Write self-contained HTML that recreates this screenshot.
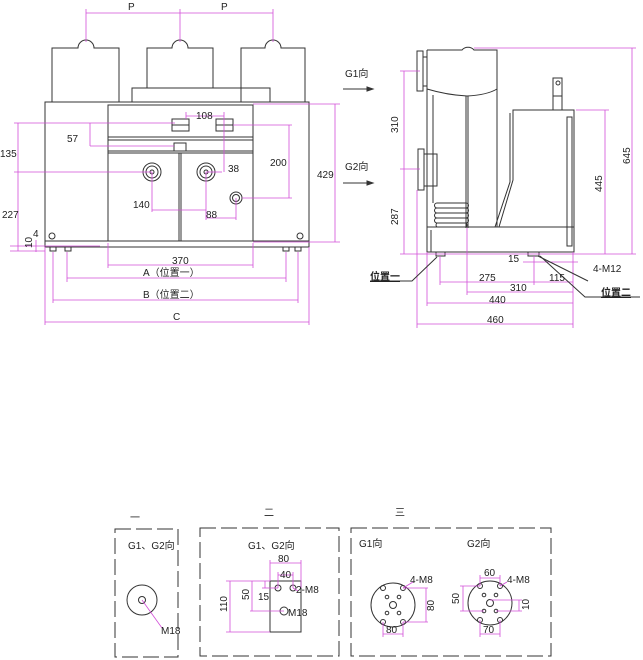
<!DOCTYPE html>
<html><head><meta charset="utf-8"><style>
html,body{margin:0;padding:0;background:#fff}
svg{display:block}
text{font-family:"Liberation Sans","Noto Sans CJK SC",sans-serif;font-size:10px;fill:#222}
.k{stroke:#333;fill:none;stroke-width:1}
.m{stroke:#d24fd8;fill:none;stroke-width:0.8}
.d{stroke:#333;fill:none;stroke-width:1;stroke-dasharray:16 5}
</style></head><body>
<svg width="643" height="660" viewBox="0 0 643 660" xmlns="http://www.w3.org/2000/svg">
<g class="k">
<path d="M52,102 V48 H78 A8,8 0 0 1 94,48 H119 V102"/>
<path d="M147,88 V48 H172 A8,8 0 0 1 188,48 H213 V88"/>
<path d="M241,102 V48 H265 A8,8 0 0 1 281,48 H305 V102"/>
<rect x="132" y="88" width="138" height="14"/>
<rect x="45" y="102" width="264" height="145"/>
<line x1="45" y1="241" x2="309" y2="241"/>
<rect x="108" y="105" width="145" height="136"/>
<line x1="108" y1="137" x2="253" y2="137"/><line x1="108" y1="140" x2="253" y2="140"/>
<line x1="108" y1="151" x2="253" y2="151"/><line x1="108" y1="153" x2="253" y2="153"/>
<line x1="179" y1="153" x2="179" y2="241"/><line x1="181" y1="153" x2="181" y2="241"/>
<rect x="172" y="119" width="17" height="12"/><line x1="172" y1="125" x2="189" y2="125"/>
<rect x="216" y="119" width="17" height="12"/><line x1="216" y1="125" x2="233" y2="125"/>
<rect x="174" y="143" width="12" height="8"/>
<circle cx="152" cy="172" r="9"/><circle cx="152" cy="172" r="6"/><circle cx="152" cy="172" r="2"/>
<circle cx="206" cy="172" r="9"/><circle cx="206" cy="172" r="6"/><circle cx="206" cy="172" r="2"/>
<circle cx="236" cy="198" r="6"/><circle cx="236" cy="198" r="3.5"/>
<circle cx="52" cy="236" r="3"/><circle cx="300" cy="236" r="3"/>
<rect x="50" y="247" width="6" height="4"/><rect x="65" y="247" width="6" height="4"/>
<rect x="283" y="247" width="6" height="4"/><rect x="295" y="247" width="6" height="4"/>
</g>
<g class="m">
<line x1="86" y1="13" x2="273" y2="13"/><line x1="86" y1="9" x2="86" y2="42"/><line x1="180" y1="9" x2="180" y2="42"/><line x1="273" y1="9" x2="273" y2="42"/>
<line x1="18" y1="123" x2="18" y2="251"/><line x1="14" y1="123" x2="175" y2="123"/><line x1="14" y1="172" x2="152" y2="172"/>
<line x1="10" y1="246" x2="100" y2="246"/><line x1="10" y1="251" x2="45" y2="251"/>
<line x1="36" y1="240" x2="36" y2="252"/>
<line x1="90" y1="123" x2="90" y2="146"/><line x1="90" y1="146" x2="174" y2="146"/>
<line x1="186" y1="116" x2="224" y2="116"/><line x1="186" y1="112" x2="186" y2="119"/><line x1="224" y1="112" x2="224" y2="172"/>
<line x1="233" y1="125" x2="292" y2="125"/><line x1="289" y1="125" x2="289" y2="198"/><line x1="242" y1="198" x2="292" y2="198"/>
<line x1="206" y1="172" x2="222" y2="172"/>
<line x1="152" y1="172" x2="152" y2="212"/><line x1="206" y1="172" x2="206" y2="220"/><line x1="236" y1="198" x2="236" y2="220"/>
<line x1="152" y1="210" x2="206" y2="210"/><line x1="206" y1="218" x2="236" y2="218"/>
<line x1="253" y1="104" x2="340" y2="104"/><line x1="253" y1="242" x2="340" y2="242"/><line x1="335" y1="104" x2="335" y2="242"/>
<line x1="108" y1="243" x2="108" y2="268"/><line x1="253" y1="243" x2="253" y2="268"/><line x1="108" y1="265" x2="253" y2="265"/>
<line x1="67" y1="252" x2="67" y2="282"/><line x1="286" y1="252" x2="286" y2="282"/><line x1="67" y1="278" x2="286" y2="278"/>
<line x1="53" y1="252" x2="53" y2="303"/><line x1="298" y1="252" x2="298" y2="303"/><line x1="53" y1="300" x2="298" y2="300"/>
<line x1="45" y1="247" x2="45" y2="325"/><line x1="309" y1="247" x2="309" y2="325"/><line x1="45" y1="322" x2="309" y2="322"/>
</g>
<text x="128" y="10" font-size="12">P</text><text x="221" y="10" font-size="12">P</text>
<text x="0" y="157">135</text><text x="2" y="218">227</text>
<text x="67" y="142">57</text><text x="196" y="119">108</text>
<text x="270" y="166">200</text><text x="228" y="172">38</text>
<text x="133" y="208">140</text><text x="206" y="218">88</text>
<text x="317" y="178">429</text>
<text x="33" y="237" font-size="8">4</text>
<text x="32" y="248" font-size="8" transform="rotate(-90 32 248)">10</text>
<text x="172" y="264">370</text>
<text x="143" y="276">A（位置一）</text>
<text x="143" y="298">B（位置二）</text>
<text x="173" y="320">C</text>
<text x="345" y="77">G1向</text><text x="345" y="170">G2向</text>
<g class="k">
<line x1="343" y1="89" x2="370" y2="89"/><path d="M367,87 L373,89 L367,91Z" fill="#333"/>
<line x1="343" y1="183" x2="370" y2="183"/><path d="M367,181 L373,183 L367,185Z" fill="#333"/>
<rect x="417" y="51" width="6" height="40"/><rect x="423" y="57" width="4" height="29"/>
<rect x="418" y="149" width="6" height="41"/><rect x="424" y="154" width="13" height="32"/>
<path d="M427,50 H462 A8,8 0 0 1 474,50 H497 V227"/>
<line x1="427" y1="50" x2="427" y2="227"/>
<path d="M433,95 V203"/>
<path d="M427,89 Q447,95 467,96 Q487,95 497,89"/>
<line x1="466" y1="96" x2="466" y2="228"/><line x1="468" y1="96" x2="468" y2="228"/>
<path d="M437,203 H466 M437,203 a2.5,2.5 0 0 0 0,5 a2.5,2.5 0 0 0 0,5 a2.5,2.5 0 0 0 0,5 a2.5,2.5 0 0 0 0,5 a2.5,2.5 0 0 0 0,4 M466,203 a2.5,2.5 0 0 1 0,5 a2.5,2.5 0 0 1 0,5 a2.5,2.5 0 0 1 0,5 a2.5,2.5 0 0 1 0,5 a2.5,2.5 0 0 1 0,4 M437,208 H466 M437,213 H466 M437,218 H466 M437,223 H466"/>
<rect x="427" y="227" width="147" height="25"/><line x1="431" y1="230" x2="431" y2="252"/>
<path d="M499,227 L513,180 V110 H574 V227"/><path d="M495,227 L510,182 V113"/>
<rect x="567" y="117" width="5" height="129"/>
<rect x="553" y="78" width="9" height="32"/><circle cx="558" cy="83" r="2"/><line x1="553" y1="96" x2="562" y2="96"/>
<rect x="436" y="252" width="9" height="4"/><rect x="528" y="252" width="11" height="4"/>
</g>
<g class="m">
<line x1="474" y1="48" x2="636" y2="48"/><line x1="632" y1="48" x2="632" y2="254"/>
<line x1="576" y1="110" x2="609" y2="110"/><line x1="605" y1="110" x2="605" y2="254"/>
<line x1="400" y1="254" x2="636" y2="254"/>
<line x1="400" y1="71" x2="420" y2="71"/><line x1="400" y1="169" x2="420" y2="169"/><line x1="404" y1="71" x2="404" y2="254"/>
<line x1="417" y1="190" x2="417" y2="328"/><line x1="427" y1="252" x2="427" y2="306"/>
<line x1="440" y1="256" x2="440" y2="285"/><line x1="467" y1="228" x2="467" y2="295"/>
<line x1="534" y1="256" x2="534" y2="285"/><line x1="573" y1="252" x2="573" y2="328"/>
<line x1="523" y1="262" x2="578" y2="262"/>
<line x1="440" y1="282" x2="573" y2="282"/>
<line x1="467" y1="292" x2="573" y2="292"/>
<line x1="427" y1="303" x2="573" y2="303"/>
<line x1="417" y1="324" x2="573" y2="324"/>
</g>
<g class="k" stroke-width="0.8">
<path d="M437,257 L412,281 H370"/>
<path d="M538,256 L588,281"/>
<path d="M540,256 L585,297 H640"/>
</g>
<text x="398" y="133" transform="rotate(-90 398 133)">310</text>
<text x="398" y="225" transform="rotate(-90 398 225)">287</text>
<text x="630" y="164" transform="rotate(-90 630 164)">645</text>
<text x="602" y="192" transform="rotate(-90 602 192)">445</text>
<text x="508" y="262">15</text><text x="593" y="272">4-M12</text>
<text x="479" y="281">275</text><text x="549" y="281">115</text>
<text x="510" y="291">310</text><text x="489" y="303">440</text><text x="487" y="323">460</text>
<text x="370" y="280" font-size="12" font-weight="bold" text-decoration="underline">位置一</text>
<text x="601" y="296" font-size="12" font-weight="bold" text-decoration="underline">位置二</text>
<text x="130" y="521">一</text><text x="264" y="516">二</text><text x="395" y="516">三</text>
<rect x="115" y="529" width="63" height="128" class="d"/>
<rect x="200" y="528" width="139" height="128" class="d"/>
<rect x="351" y="528" width="200" height="128" class="d"/>
<text x="128" y="549">G1、G2向</text><text x="248" y="549">G1、G2向</text>
<text x="359" y="547">G1向</text><text x="467" y="547">G2向</text>
<g class="k">
<circle cx="142" cy="600" r="15"/><circle cx="142" cy="600" r="3.5"/>
<rect x="270" y="581" width="31" height="51"/>
<circle cx="278" cy="588" r="3"/><circle cx="293" cy="588" r="3"/><circle cx="284" cy="611" r="4"/>
<circle cx="393" cy="605" r="22"/><circle cx="393" cy="605" r="3.5"/>
<circle cx="383" cy="588" r="2.5"/><circle cx="403" cy="588" r="2.5"/><circle cx="383" cy="622" r="2.5"/><circle cx="403" cy="622" r="2.5"/>
<circle cx="387" cy="597" r="1.8"/><circle cx="399" cy="597" r="1.8"/><circle cx="387" cy="613" r="1.8"/><circle cx="399" cy="613" r="1.8"/>
<circle cx="490" cy="603" r="22"/><circle cx="490" cy="603" r="3.5"/>
<circle cx="480" cy="586" r="2.5"/><circle cx="500" cy="586" r="2.5"/><circle cx="480" cy="620" r="2.5"/><circle cx="500" cy="620" r="2.5"/>
<circle cx="484" cy="595" r="1.8"/><circle cx="496" cy="595" r="1.8"/><circle cx="484" cy="611" r="1.8"/><circle cx="496" cy="611" r="1.8"/>
</g>
<g class="m">
<line x1="142" y1="600" x2="162" y2="628"/>
<line x1="270" y1="563" x2="301" y2="563"/><line x1="270" y1="560" x2="270" y2="581"/><line x1="301" y1="560" x2="301" y2="588"/>
<line x1="278" y1="575" x2="293" y2="575"/><line x1="278" y1="572" x2="278" y2="588"/><line x1="293" y1="572" x2="293" y2="588"/>
<line x1="226" y1="581" x2="270" y2="581"/><line x1="230" y1="581" x2="230" y2="632"/><line x1="226" y1="632" x2="270" y2="632"/>
<line x1="252" y1="581" x2="252" y2="611"/><line x1="250" y1="611" x2="284" y2="611"/>
<line x1="265" y1="581" x2="265" y2="588"/><line x1="262" y1="588" x2="278" y2="588"/>
<line x1="293" y1="588" x2="298" y2="591"/>
<line x1="403" y1="588" x2="413" y2="582"/><line x1="403" y1="588" x2="428" y2="588"/><line x1="403" y1="622" x2="428" y2="622"/><line x1="426" y1="588" x2="426" y2="622"/>
<line x1="383" y1="622" x2="383" y2="637"/><line x1="403" y1="622" x2="403" y2="637"/><line x1="383" y1="634" x2="403" y2="634"/>
<line x1="480" y1="578" x2="500" y2="578"/><line x1="480" y1="575" x2="480" y2="586"/><line x1="500" y1="575" x2="500" y2="586"/>
<line x1="460" y1="586" x2="480" y2="586"/><line x1="460" y1="611" x2="484" y2="611"/><line x1="463" y1="586" x2="463" y2="611"/>
<line x1="500" y1="586" x2="507" y2="582"/>
<line x1="490" y1="600" x2="522" y2="600"/><line x1="496" y1="611" x2="522" y2="611"/><line x1="519" y1="600" x2="519" y2="611"/>
<line x1="480" y1="620" x2="480" y2="637"/><line x1="500" y1="620" x2="500" y2="637"/><line x1="480" y1="634" x2="500" y2="634"/>
</g>
<text x="161" y="634">M18</text>
<text x="278" y="562">80</text><text x="280" y="578">40</text>
<text x="296" y="593">2-M8</text><text x="288" y="616">M18</text>
<text x="258" y="600">15</text>
<text x="249" y="600" transform="rotate(-90 249 600)">50</text>
<text x="227" y="612" transform="rotate(-90 227 612)">110</text>
<text x="410" y="583">4-M8</text><text x="507" y="583">4-M8</text>
<text x="434" y="611" transform="rotate(-90 434 611)">80</text>
<text x="386" y="633">80</text>
<text x="484" y="576">60</text><text x="483" y="633">70</text>
<text x="459" y="604" transform="rotate(-90 459 604)">50</text>
<text x="529" y="610" transform="rotate(-90 529 610)">10</text>
</svg>
</body></html>
